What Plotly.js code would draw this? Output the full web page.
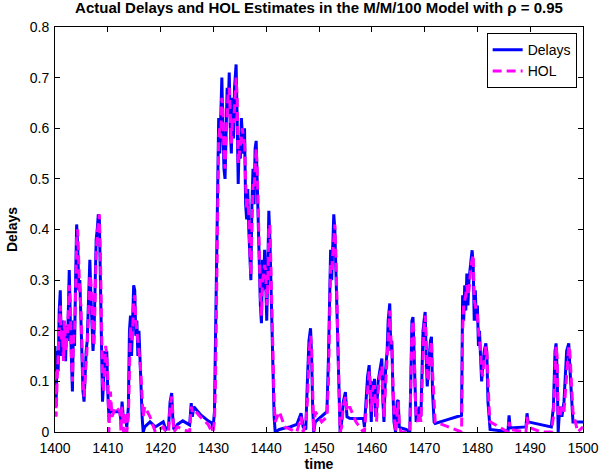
<!DOCTYPE html>
<html>
<head>
<meta charset="utf-8">
<script src="https://cdn.plot.ly/plotly-3.0.1.min.js"></script>
<style>html,body{margin:0;padding:0;background:#fff;}#chart{width:601px;height:474px;}</style>
</head>
<body>
<div id="chart"></div>
<script>
// time (s), actual delays, HOL estimates (one row per group of points)
const time = [
 1400.0,1400.2,1400.4,1400.6,1400.8,1401.0,1401.2,1401.4,1401.6,1401.8,
 1402.0,1402.2,1402.4,1402.7,1402.9,1403.1,1403.3,1403.5,1403.7,1403.9,
 1404.1,1404.3,1404.5,1404.7,1404.9,1405.1,1405.3,1405.5,1405.7,1405.9,
 1406.1,1406.3,1406.6,1406.8,1407.0,1407.2,1407.4,1407.6,1407.8,1408.0,
 1408.2,1408.4,1408.6,1408.8,1409.0,1409.2,1409.4,1409.6,1409.8,1410.0,
 1410.2,1410.5,1410.8,1411.5,1412.3,1412.5,1412.7,1413.0,1413.3,1413.6,
 1413.9,1414.1,1414.3,1414.5,1414.7,1414.9,1415.1,1415.3,1415.5,1415.7,
 1415.9,1416.1,1416.3,1416.5,1416.7,1417.0,1418.0,1419.0,1420.5,1421.0,
 1421.5,1421.8,1422.1,1422.3,1422.5,1423.2,1424.2,1425.5,1425.8,1426.0,
 1426.3,1427.5,1429.0,1429.7,1429.9,1430.2,1430.4,1430.6,1430.8,1431.0,
 1431.2,1431.4,1431.6,1431.8,1432.0,1432.2,1432.4,1432.6,1432.8,1433.0,
 1433.2,1433.4,1433.6,1433.8,1434.0,1434.3,1434.5,1434.7,1434.9,1435.1,
 1435.3,1435.5,1435.7,1435.9,1436.1,1436.3,1436.5,1436.7,1436.9,1437.1,
 1437.3,1437.5,1437.7,1437.9,1438.1,1438.3,1438.5,1438.7,1438.9,1439.1,
 1439.3,1439.5,1439.7,1439.9,1440.1,1440.3,1440.5,1440.7,1440.9,1441.1,
 1441.3,1441.5,1441.7,1442.5,1443.5,1444.5,1445.8,1446.6,1447.0,1447.5,
 1447.8,1448.1,1448.4,1448.6,1448.8,1449.0,1449.3,1450.5,1451.5,1451.8,
 1452.0,1452.2,1452.4,1452.6,1452.8,1453.0,1453.2,1453.4,1453.6,1453.8,
 1454.0,1454.3,1454.6,1455.0,1455.3,1455.8,1457.0,1458.4,1458.6,1458.9,
 1459.2,1459.5,1459.7,1459.9,1460.1,1460.3,1460.5,1460.7,1460.9,1461.2,
 1461.5,1461.9,1462.1,1462.3,1462.6,1462.9,1463.1,1463.4,1463.6,1463.8,
 1464.0,1464.2,1464.5,1464.8,1465.0,1465.2,1465.5,1466.5,1467.2,1467.4,
 1467.6,1467.8,1468.0,1468.2,1468.4,1468.7,1469.0,1469.3,1469.7,1469.9,
 1470.1,1470.3,1470.5,1470.7,1470.9,1471.1,1471.3,1471.5,1471.8,1472.0,
 1474.5,1477.0,1477.2,1477.4,1477.6,1477.8,1478.0,1478.2,1478.4,1478.6,
 1478.8,1479.0,1479.2,1479.4,1479.6,1479.8,1480.0,1480.2,1480.4,1480.6,
 1480.8,1481.0,1481.3,1481.6,1481.8,1482.0,1482.2,1482.4,1484.0,1485.8,
 1486.0,1486.2,1489.2,1489.4,1489.6,1492.0,1494.0,1494.4,1494.7,1494.9,
 1495.1,1495.3,1495.6,1496.0,1496.4,1496.9,1497.3,1497.5,1497.8,1498.1,
 1499.0,1500.0
];
const delays = [
 0.17,0.05,0.16,0.12,0.24,0.28,0.15,0.22,0.16,0.20,
 0.14,0.21,0.18,0.32,0.22,0.13,0.08,0.22,0.17,0.30,
 0.41,0.37,0.28,0.30,0.22,0.14,0.08,0.06,0.12,0.16,
 0.18,0.26,0.34,0.27,0.22,0.16,0.20,0.31,0.38,0.40,
 0.43,0.42,0.30,0.20,0.06,0.10,0.16,0.14,0.16,0.08,
 0.03,0.05,0.04,0.04,0.04,0.02,0.06,0.02,0.03,0.01,
 0.05,0.20,0.23,0.15,0.22,0.29,0.28,0.19,0.22,0.15,
 0.20,0.12,0.09,0.03,0.00,0.01,0.02,0.01,0.02,0.005,
 0.01,0.06,0.077,0.03,0.005,0.015,0.022,0.014,0.057,0.03,
 0.05,0.035,0.022,0.018,0.003,0.04,0.17,0.35,0.52,0.62,
 0.55,0.66,0.70,0.60,0.52,0.50,0.62,0.68,0.64,0.71,
 0.60,0.55,0.66,0.58,0.68,0.726,0.62,0.49,0.58,0.54,
 0.62,0.58,0.55,0.60,0.45,0.42,0.48,0.40,0.33,0.30,
 0.45,0.52,0.45,0.56,0.575,0.48,0.38,0.30,0.25,0.215,
 0.34,0.28,0.36,0.30,0.22,0.32,0.437,0.38,0.28,0.21,
 0.12,0.03,0.00,0.005,0.008,0.01,0.015,0.037,0.01,0.005,
 0.10,0.18,0.205,0.15,0.05,0.00,0.02,0.03,0.04,0.15,
 0.28,0.36,0.30,0.38,0.43,0.40,0.32,0.25,0.13,0.05,
 0.00,0.02,0.06,0.079,0.03,0.027,0.026,0.027,0.01,0.06,
 0.11,0.132,0.08,0.02,0.10,0.07,0.105,0.03,0.04,0.10,
 0.12,0.145,0.06,0.02,0.12,0.16,0.22,0.254,0.16,0.18,
 0.08,0.02,0.00,0.06,0.063,0.01,0.008,0.005,0.00,0.15,
 0.22,0.227,0.16,0.05,0.02,0.03,0.05,0.03,0.20,0.22,
 0.237,0.15,0.09,0.12,0.16,0.18,0.188,0.08,0.02,0.017,
 0.025,0.033,0.27,0.22,0.29,0.24,0.313,0.25,0.30,0.33,
 0.34,0.359,0.33,0.22,0.28,0.22,0.25,0.17,0.20,0.148,
 0.10,0.13,0.16,0.175,0.15,0.06,0.03,0.005,0.003,0.003,
 0.033,0.008,0.01,0.037,0.02,0.015,0.01,0.05,0.16,0.175,
 0.12,0.00,0.05,0.03,0.06,0.16,0.175,0.13,0.07,0.02,
 0.02,0.02
];
const hol = [
 0.12,0.03,0.10,0.14,0.20,0.25,0.18,0.20,0.14,0.22,
 0.16,0.18,0.20,0.29,0.26,0.15,0.10,0.18,0.20,0.27,
 0.38,0.40,0.31,0.27,0.25,0.17,0.10,0.07,0.10,0.15,
 0.17,0.22,0.31,0.30,0.24,0.18,0.17,0.28,0.35,0.39,
 0.41,0.43,0.35,0.24,0.10,0.08,0.14,0.17,0.15,0.11,
 0.00,0.08,0.03,0.05,0.04,0.00,0.05,0.00,0.04,0.00,
 0.03,0.16,0.21,0.18,0.20,0.26,0.27,0.22,0.20,0.18,
 0.17,0.14,0.11,0.07,0.03,0.05,0.03,0.00,0.01,0.00,
 0.00,0.05,0.07,0.04,0.00,0.01,0.005,0.00,0.05,0.04,
 0.045,0.03,0.015,0.00,0.00,0.02,0.10,0.30,0.48,0.58,
 0.60,0.58,0.66,0.64,0.55,0.52,0.58,0.65,0.67,0.68,
 0.63,0.57,0.62,0.61,0.64,0.70,0.66,0.53,0.55,0.57,
 0.59,0.60,0.57,0.58,0.50,0.44,0.46,0.43,0.36,0.31,
 0.40,0.49,0.48,0.52,0.56,0.52,0.42,0.33,0.27,0.23,
 0.30,0.31,0.33,0.32,0.25,0.29,0.40,0.41,0.31,0.24,
 0.16,0.06,0.02,0.04,0.01,0.005,0.00,0.03,0.00,0.02,
 0.06,0.15,0.19,0.17,0.08,0.00,0.04,0.02,0.03,0.10,
 0.22,0.33,0.32,0.35,0.40,0.41,0.35,0.28,0.17,0.08,
 0.00,0.01,0.05,0.07,0.04,0.05,0.02,0.00,0.00,0.04,
 0.09,0.12,0.10,0.04,0.08,0.09,0.09,0.05,0.02,0.08,
 0.11,0.13,0.09,0.03,0.09,0.14,0.19,0.24,0.19,0.16,
 0.10,0.04,0.00,0.04,0.06,0.02,0.00,0.00,0.00,0.10,
 0.20,0.22,0.19,0.08,0.03,0.02,0.04,0.02,0.16,0.21,
 0.23,0.19,0.11,0.10,0.14,0.17,0.18,0.12,0.04,0.02,
 0.01,0.00,0.20,0.25,0.26,0.27,0.29,0.27,0.28,0.31,
 0.33,0.34,0.35,0.26,0.25,0.24,0.23,0.20,0.18,0.16,
 0.12,0.11,0.14,0.17,0.16,0.09,0.05,0.02,0.01,0.00,
 0.02,0.005,0.00,0.03,0.01,0.00,0.00,0.03,0.12,0.17,
 0.15,0.03,0.03,0.05,0.04,0.12,0.17,0.16,0.09,0.04,
 0.00,0.01
];

const titleText = 'Actual Delays and HOL Estimates in the M/M/100 Model with \u03C1 = 0.95';
const font = 'Arial, "Liberation Sans", Helvetica, sans-serif';

const traces = [
  {x: time, y: delays, type: 'scatter', mode: 'lines', name: 'Delays',
   line: {color: '#0000ff', width: 3}},
  {x: time, y: hol, type: 'scatter', mode: 'lines', name: 'HOL',
   line: {color: '#ff00ff', width: 3, dash: '9px,5px'}}
];

const axisCommon = {
  showgrid: false, zeroline: false, showline: true, linecolor: '#000', linewidth: 1,
  mirror: 'ticks', ticks: 'inside', ticklen: 5, tickcolor: '#000', tickwidth: 1,
  tickfont: {family: font, size: 14, color: '#000'}
};

const layout = {
  width: 601, height: 474,
  margin: {l: 55, r: 18, t: 27, b: 42, pad: 0},
  paper_bgcolor: '#fff', plot_bgcolor: '#fff',
  font: {family: font, color: '#000'},
  title: {text: '<b>' + titleText + '</b>', font: {family: font, size: 15, color: '#000'},
          x: 0.5, xref: 'paper', xanchor: 'center', y: 0.995, yref: 'container', yanchor: 'top'},
  xaxis: Object.assign({}, axisCommon, {
    range: [1400, 1500], dtick: 10, tick0: 1400, ticklabelstandoff: 3,
    title: {text: '<b>time</b>', font: {family: font, size: 14, color: '#000'}, standoff: 0}
  }),
  yaxis: Object.assign({}, axisCommon, {
    range: [0, 0.8], dtick: 0.1, tick0: 0, ticklabelstandoff: 2,
    title: {text: '<b>Delays</b>', font: {family: font, size: 14, color: '#000'}, standoff: 8}
  }),
  legend: {x: 0.988, xanchor: 'right', y: 0.985, yanchor: 'top',
           bgcolor: '#fff', bordercolor: '#000', borderwidth: 1,
           font: {family: font, size: 14, color: '#000'}, tracegroupgap: 0},
  showlegend: true
};

Plotly.newPlot('chart', traces, layout, {displayModeBar: false, staticPlot: true});
</script>
</body>
</html>
